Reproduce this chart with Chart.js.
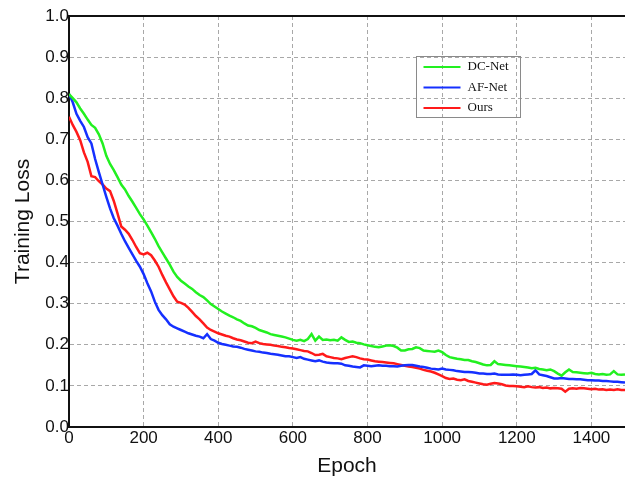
<!DOCTYPE html>
<html>
<head>
<meta charset="utf-8">
<script src="https://cdn.jsdelivr.net/npm/chart.js@4/dist/chart.umd.min.js"></script>
<style>
  html, body { margin: 0; padding: 0; background: #fff; }
  #wrap { width: 625px; height: 479px; }
</style>
</head>
<body>
<div id="wrap"><canvas id="c" width="625" height="479"></canvas></div>
<script>
// Training epochs sampled every 10 epochs
const epochs = Array.from({ length: 150 }, (_, i) => i * 10);

const seriesNames = ['DC-Net', 'AF-Net', 'Ours'];

const dcNetLoss = [
  0.810, 0.800, 0.790, 0.775, 0.762, 0.748, 0.735, 0.728, 0.712, 0.690,
  0.660, 0.640, 0.625, 0.608, 0.590, 0.578, 0.562, 0.548, 0.533, 0.518,
  0.505, 0.490, 0.474, 0.458, 0.440, 0.425, 0.410, 0.395, 0.378, 0.365,
  0.356, 0.349, 0.342, 0.336, 0.328, 0.321, 0.316, 0.308, 0.299, 0.293,
  0.287, 0.281, 0.276, 0.271, 0.267, 0.262, 0.258, 0.252, 0.247, 0.245,
  0.241, 0.236, 0.233, 0.230, 0.226, 0.224, 0.222, 0.220, 0.218, 0.215,
  0.212, 0.210, 0.212, 0.209, 0.214, 0.226, 0.210, 0.220, 0.212, 0.213,
  0.211, 0.212, 0.210, 0.218, 0.212, 0.207, 0.208, 0.205, 0.204, 0.201,
  0.199, 0.197, 0.195, 0.194, 0.196, 0.198, 0.199, 0.197, 0.193, 0.186,
  0.186, 0.189, 0.190, 0.194, 0.192, 0.186, 0.185, 0.184, 0.183, 0.186,
  0.182, 0.175, 0.170, 0.168, 0.166, 0.165, 0.163, 0.163, 0.160, 0.158,
  0.155, 0.152, 0.150, 0.151, 0.160, 0.153, 0.152, 0.151, 0.150, 0.149,
  0.148, 0.147, 0.146, 0.145, 0.143, 0.144, 0.141, 0.140, 0.138, 0.140,
  0.136, 0.130, 0.125, 0.133, 0.140, 0.134, 0.133, 0.132, 0.131, 0.130,
  0.132, 0.129, 0.128, 0.129, 0.127, 0.128, 0.136, 0.128, 0.127, 0.128
];

const afNetLoss = [
  0.810, 0.790, 0.762, 0.745, 0.730, 0.705, 0.690, 0.652, 0.620, 0.590,
  0.560, 0.532, 0.508, 0.490, 0.470, 0.452, 0.436, 0.420, 0.404, 0.390,
  0.372, 0.350, 0.330, 0.305, 0.285, 0.272, 0.262, 0.250, 0.244, 0.240,
  0.236, 0.232, 0.228, 0.225, 0.222, 0.220, 0.216, 0.226, 0.214, 0.210,
  0.205, 0.202, 0.200, 0.198, 0.196, 0.195, 0.193, 0.190, 0.188, 0.186,
  0.184, 0.183, 0.181, 0.180, 0.178, 0.177, 0.176, 0.174, 0.172, 0.172,
  0.170, 0.168, 0.170, 0.166, 0.164, 0.162, 0.160, 0.162, 0.159, 0.157,
  0.156, 0.155, 0.155, 0.154, 0.150, 0.149, 0.147, 0.146, 0.145, 0.150,
  0.149, 0.148, 0.149, 0.150, 0.149, 0.149, 0.148, 0.148, 0.147, 0.149,
  0.150, 0.151, 0.151, 0.149, 0.147, 0.146, 0.144, 0.142, 0.141, 0.140,
  0.142, 0.140, 0.139, 0.138, 0.136, 0.135, 0.134, 0.134, 0.133, 0.132,
  0.130, 0.130, 0.129, 0.129, 0.130, 0.128, 0.127, 0.127, 0.127, 0.128,
  0.127, 0.126, 0.127, 0.128, 0.129, 0.138, 0.128, 0.126, 0.124, 0.121,
  0.118, 0.118, 0.119, 0.118, 0.117, 0.117, 0.116, 0.116, 0.115, 0.114,
  0.114, 0.113, 0.113, 0.112, 0.112, 0.111, 0.110, 0.110, 0.109, 0.108
];

const oursLoss = [
  0.755, 0.735, 0.718, 0.698, 0.668, 0.645, 0.610, 0.608, 0.598, 0.590,
  0.580, 0.574, 0.550, 0.520, 0.488, 0.480, 0.470, 0.455, 0.438, 0.423,
  0.420, 0.424, 0.418, 0.405, 0.390, 0.370, 0.352, 0.335, 0.318, 0.305,
  0.302, 0.298, 0.290, 0.280, 0.270, 0.262, 0.252, 0.242, 0.236, 0.232,
  0.228, 0.225, 0.222, 0.220, 0.216, 0.213, 0.211, 0.208, 0.205, 0.204,
  0.208, 0.204, 0.202, 0.201, 0.200, 0.198, 0.197, 0.195, 0.194, 0.192,
  0.191, 0.189, 0.187, 0.185, 0.184, 0.180, 0.175, 0.176, 0.178, 0.172,
  0.170, 0.168, 0.167, 0.165, 0.168, 0.170, 0.172, 0.170, 0.167, 0.165,
  0.164, 0.162, 0.160, 0.159, 0.158, 0.157, 0.156, 0.155, 0.153, 0.151,
  0.149, 0.147, 0.146, 0.144, 0.142, 0.139, 0.137, 0.135, 0.132, 0.128,
  0.124, 0.119, 0.117, 0.118, 0.115, 0.114, 0.116, 0.112, 0.110, 0.108,
  0.106, 0.104, 0.103, 0.105, 0.107, 0.106, 0.104, 0.101, 0.100, 0.100,
  0.099, 0.098, 0.097, 0.099, 0.097, 0.096, 0.097, 0.095, 0.096, 0.094,
  0.095, 0.094, 0.093, 0.086, 0.093, 0.094, 0.093, 0.095, 0.094, 0.093,
  0.092, 0.093, 0.091, 0.092, 0.090, 0.091, 0.090, 0.092, 0.090, 0.090
];

const xTickValues = [0, 200, 400, 600, 800, 1000, 1200, 1400];
const yTickValues = [0, 0.1, 0.2, 0.3, 0.4, 0.5, 0.6, 0.7, 0.8, 0.9, 1.0];

const seriesColors = ['#22f020', '#1530ff', '#ff1a1a'];
const seriesValues = [dcNetLoss, afNetLoss, oursLoss];

const datasets = seriesNames.map((name, k) => ({
  label: name,
  data: epochs.map((e, i) => ({ x: e, y: seriesValues[k][i] })),
  borderColor: seriesColors[k],
  borderWidth: 2.5,
  pointRadius: 0,
  tension: 0,
  fill: false
}));

// Draws the framed legend inside the plot and the top frame line
const framePlugin = {
  id: 'frameAndLegend',
  afterDatasetsDraw(chart) {
    const ctx = chart.ctx;
    const area = chart.chartArea;
    ctx.save();
    ctx.strokeStyle = '#111';
    ctx.lineWidth = 2;
    ctx.beginPath();
    ctx.moveTo(area.left, area.top);
    ctx.lineTo(area.right, area.top);
    ctx.stroke();

    // legend box
    const bx = 416.5, by = 56.5, bw = 104, bh = 61;
    ctx.strokeStyle = '#8a8a8a';
    ctx.lineWidth = 1;
    ctx.strokeRect(bx, by, bw, bh);
    ctx.font = '13px "Liberation Serif", "Times New Roman", serif';
    ctx.textBaseline = 'middle';
    ctx.fillStyle = '#111';
    chart.data.datasets.forEach((ds, i) => {
      const y = by + 10.5 + i * 20.5;
      ctx.strokeStyle = ds.borderColor;
      ctx.lineWidth = 2;
      ctx.beginPath();
      ctx.moveTo(bx + 7, y);
      ctx.lineTo(bx + 44, y);
      ctx.stroke();
      ctx.fillText(ds.label, bx + 51, y);
    });
    ctx.restore();
  }
};

const tickFont = { family: '"Liberation Sans", Arial, sans-serif', size: 17 };
const titleFont = { family: '"Liberation Sans", Arial, sans-serif', size: 21 };

new Chart(document.getElementById('c'), {
  type: 'line',
  data: { datasets },
  options: {
    responsive: false,
    animation: false,
    layout: { padding: { top: 16, right: 0, left: 0, bottom: 0 } },
    plugins: {
      legend: { display: false },
      tooltip: { enabled: false }
    },
    scales: {
      x: {
        type: 'linear',
        min: 0,
        max: 1490,
        afterBuildTicks(scale) {
          scale.ticks = xTickValues.map(v => ({ value: v }));
        },
        afterFit(scale) { scale.height = 52; },
        ticks: {
          font: tickFont,
          color: '#111',
          padding: 1,
          maxRotation: 0,
          callback: v => String(v)
        },
        grid: {
          color: '#a8a8a8',
          lineWidth: 1,
          drawTicks: false
        },
        border: { display: true, color: '#111', width: 2, dash: [4, 3] },
        title: {
          display: true,
          text: 'Epoch',
          font: titleFont,
          color: '#111',
          padding: { top: 6, bottom: 0 }
        }
      },
      y: {
        type: 'linear',
        min: 0,
        max: 1.0,
        afterBuildTicks(scale) {
          scale.ticks = yTickValues.map(v => ({ value: v }));
        },
        afterFit(scale) { scale.width = 69; },
        ticks: {
          font: tickFont,
          color: '#111',
          padding: 0,
          callback: v => Number(v).toFixed(1)
        },
        grid: {
          color: '#a8a8a8',
          lineWidth: 1,
          drawTicks: false
        },
        border: { display: true, color: '#111', width: 2, dash: [4, 3] },
        title: {
          display: true,
          text: 'Training Loss',
          font: titleFont,
          color: '#111',
          padding: { top: 11, bottom: 0 }
        }
      }
    }
  },
  plugins: [framePlugin]
});
</script>
</body>
</html>
